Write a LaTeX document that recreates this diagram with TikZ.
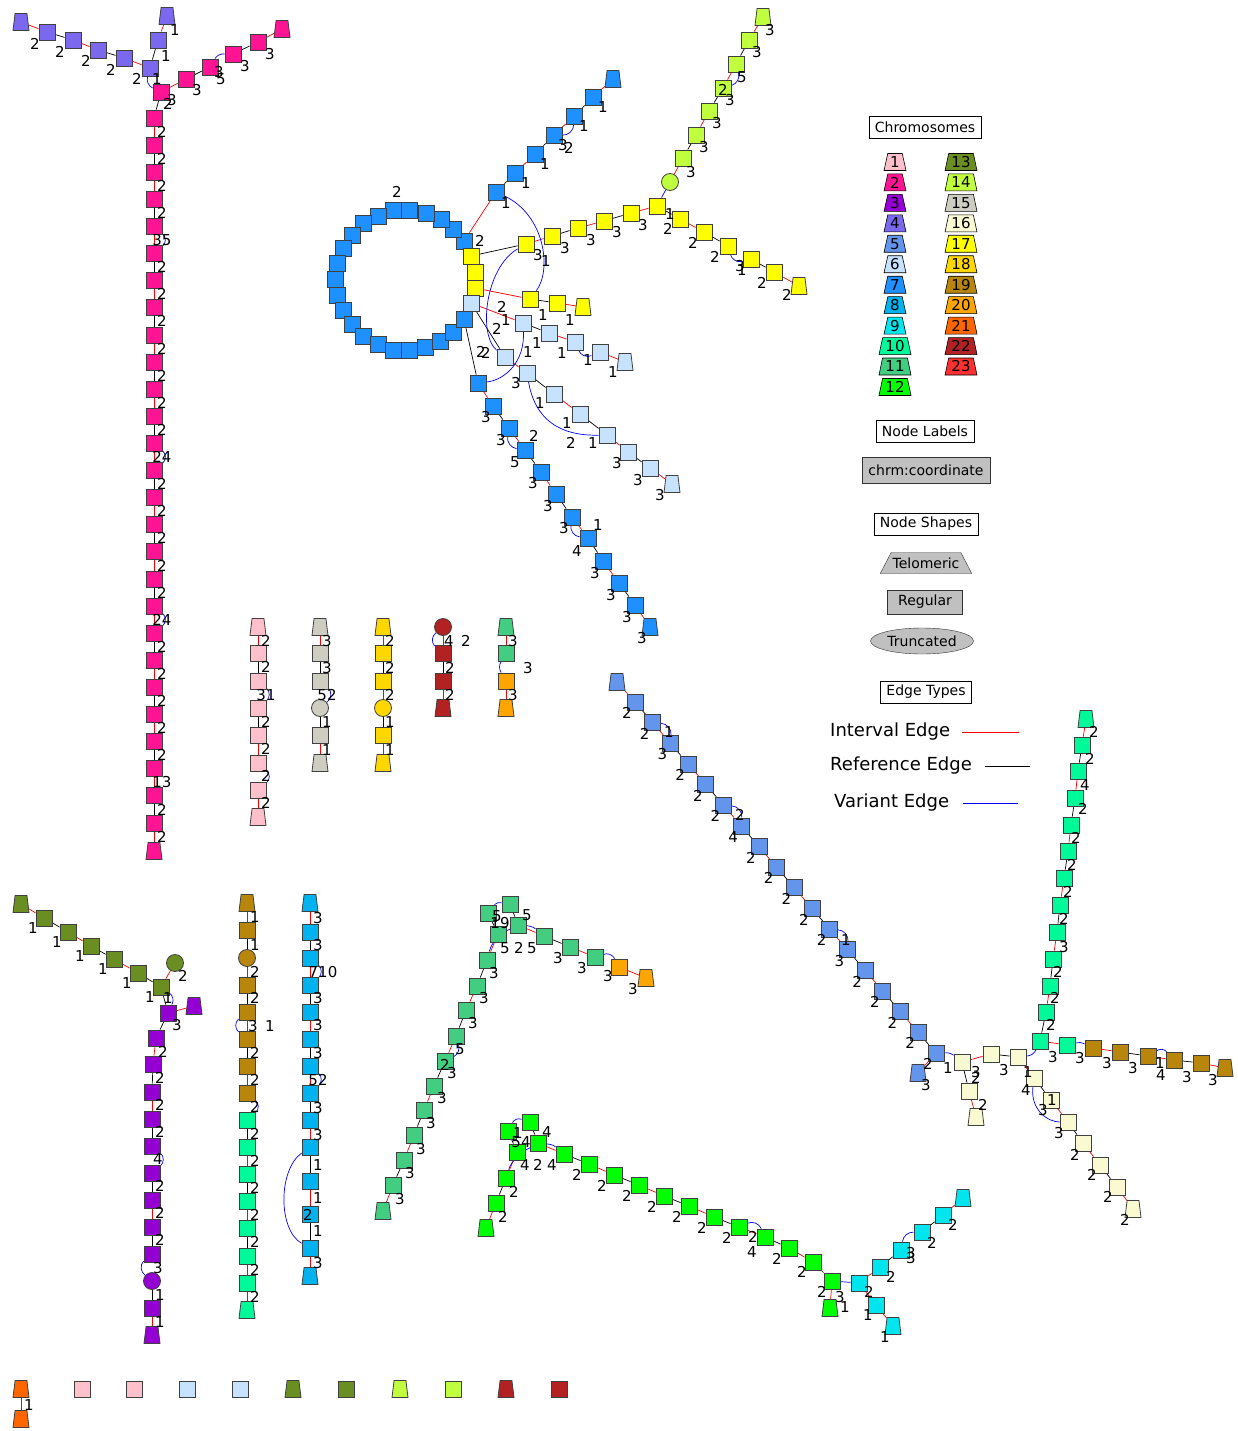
\documentclass[tikz,border=0pt]{standalone}
\usepackage{fontspec}
\setmainfont{DejaVu Sans}
\usetikzlibrary{shapes.geometric,backgrounds}
\definecolor{c1}{HTML}{FFC0CB}
\definecolor{c2}{HTML}{FF1493}
\definecolor{c3}{HTML}{9400D3}
\definecolor{c4}{HTML}{7B68EE}
\definecolor{c5}{HTML}{6495ED}
\definecolor{c6}{HTML}{C6E2FF}
\definecolor{c7}{HTML}{1E90FF}
\definecolor{c8}{HTML}{00B2EE}
\definecolor{c9}{HTML}{00E5EE}
\definecolor{c10}{HTML}{00FA9A}
\definecolor{c11}{HTML}{43CD80}
\definecolor{c12}{HTML}{00FF00}
\definecolor{c13}{HTML}{6B8E23}
\definecolor{c14}{HTML}{C0FF3E}
\definecolor{c15}{HTML}{CDCDC1}
\definecolor{c16}{HTML}{FAFAD2}
\definecolor{c17}{HTML}{FFFF00}
\definecolor{c18}{HTML}{FFD700}
\definecolor{c19}{HTML}{B8860B}
\definecolor{c20}{HTML}{FFA500}
\definecolor{c21}{HTML}{FF6600}
\definecolor{c22}{HTML}{B22222}
\definecolor{c23}{HTML}{FF3030}
\definecolor{lgray}{HTML}{C0C0C0}
\tikzset{
 sq/.style={rectangle,draw=black!75,line width=0.8pt,minimum size=16pt,inner sep=0pt},
 tl/.style={trapezium,draw=black!75,line width=0.8pt,trapezium left angle=80,trapezium right angle=80,trapezium stretches=true,minimum width=16pt,minimum height=17pt,inner sep=1pt},
 tc/.style={circle,draw=black!75,line width=0.8pt,minimum size=17pt,inner sep=0pt},
 ie/.style={draw=red,line width=0.7pt},
 re/.style={draw=black,line width=0.7pt},
 ve/.style={draw=blue,line width=0.7pt},
 lb/.style={font=\fontsize{15}{15}\selectfont,inner sep=0pt},
 box/.style={draw=black,fill=white,font=\fontsize{14}{14}\selectfont,inner xsep=6pt,inner ysep=3pt,minimum height=22pt},
 gbox/.style={draw=black!80,fill=lgray,font=\fontsize{14}{14}\selectfont,inner sep=2pt},
 chr/.style={trapezium,draw=black,line width=0.6pt,trapezium left angle=77,trapezium right angle=77,trapezium stretches=true,minimum width=22pt,minimum height=17pt,inner sep=1pt,font=\fontsize{15}{15}\selectfont},
 chrw/.style={chr,minimum width=32pt},
 big/.style={anchor=west,font=\fontsize{18}{18}\selectfont,inner sep=0pt},
}
\begin{document}
\begin{tikzpicture}[x=1pt,y=-1pt]
\useasboundingbox (0,0) rectangle (1238,1431);
%%%%%%%%%%%%%%%% LEGEND
\node[box] (hC) at (925,127) {Chromosomes};
\foreach \i in {1,...,9} \node[chr,fill=c\i] (k\i) at (895,{162+20.45*(\i-1)}) {\i};
\foreach \i in {10,11,12} \node[chrw,fill=c\i] (k\i) at (895,{162+20.45*(\i-1)}) {\i};
\foreach \i in {13,...,23} \node[chrw,fill=c\i] (k\i) at (961,{162+20.45*(\i-13)}) {\i};
\node[box] (hL) at (925,431) {Node Labels};
\node[gbox,minimum width=128pt,minimum height=26pt] (gC) at (926,470) {chrm:coordinate};
\node[box] (hS) at (926,524) {Node Shapes};
\node[trapezium,draw=black!80,fill=lgray,trapezium left angle=50,trapezium right angle=50,trapezium stretches=true,minimum width=92pt,minimum height=21pt,inner sep=1pt,font=\fontsize{14}{14}\selectfont] (sT) at (926,563) {Telomeric};
\node[gbox,minimum width=75pt,minimum height=24pt] (sR) at (925,602) {Regular};
\node[ellipse,draw=black!80,fill=lgray,minimum width=103pt,minimum height=26pt,inner sep=0pt,font=\fontsize{14}{14}\selectfont] (sE) at (922,641) {Truncated};
\node[box] (hE) at (926,692) {Edge Types};
\node[big] (eI) at (830,732) {Interval Edge};
\node[big] (eR) at (830,766) {Reference Edge};
\node[big] (eV) at (834,803) {Variant Edge};
\coordinate (eI1) at (962,732); \coordinate (eI2) at (1019,732);
\coordinate (eR1) at (985,766); \coordinate (eR2) at (1030,766);
\coordinate (eV1) at (963,803); \coordinate (eV2) at (1018,803);
\draw[ie,line width=1pt] (eI1)--(eI2); \draw[re,line width=1pt] (eR1)--(eR2); \draw[ve,line width=1pt] (eV1)--(eV2);
%%%%%%%%%%%%%%%% NODES
% --- chr4 / chr2 top-left
\node[tl,fill=c4] (a1) at (21,22) {};
\foreach \n/\x/\y in {a2/47/32,a3/73/40,a4/98/50,a5/124/58,a6/150/68,a7/158/40} \node[sq,fill=c4] (\n) at (\x,\y) {};
\node[tl,fill=c4] (a8) at (167,16) {};
\foreach \n/\x/\y in {b0/161/92,b1/186/79,b2/210/67,b3/233/54,b4/258/42} \node[sq,fill=c2] (\n) at (\x,\y) {};
\node[tl,fill=c2] (b5) at (282,29) {};
\foreach \i in {1,...,27} {\pgfmathsetmacro\yy{118+27.115*(\i-1)}\node[sq,fill=c2] (m\i) at (154,\yy) {};}
\node[tl,fill=c2] (mT) at (154,851) {};
% --- blue loop cluster
\foreach \n/\x/\y [count=\i] in {L1/464/241,L2/453/229,L3/441/219,L4/426/213,L5/409/210,L6/393/210,L7/378/216,L8/363/223,L9/352/235,L10/343/248,L11/337/263,L12/335/279,L13/337/295,L14/343/310,L15/352/324,L16/363/336,L17/378/344,L18/393/350,L19/409/350,L20/425/347,L21/440/341,L22/453/332,L23/464/319} \node[sq,fill=c7] (\n) at (\x,\y) {};
\foreach \n/\x/\y in {U1/496/192,U2/515/173,U3/535/154,U4/554/135,U5/574/116,U6/593/97} \node[sq,fill=c7] (\n) at (\x,\y) {};
\node[tl,fill=c7] (UT) at (613,79) {};
\foreach \n/\x/\y in {Y1/471/256,Y2/475/272,Y3/475/288,Y4/526/244,Y5/552/236,Y6/578/228,Y7/604/221,Y8/631/213,Y9/657/206,Y10/680/219,Y11/704/232,Y12/728/246,Y13/751/259,Y14/774/272,Y15/530/299,Y16/557/303} \node[sq,fill=c17] (\n) at (\x,\y) {};
\node[tl,fill=c17] (YT) at (799,286) {};
\node[tl,fill=c17] (YT2) at (583,307) {};
\foreach \n/\x/\y in {P0/471/303,P1/523/323,P2/505/357,P3/549/333,P4/575/342,P5/600/352,P6/527/373,P7/554/394,P8/580/414,P9/607/435,P10/628/452,P11/650/468} \node[sq,fill=c6] (\n) at (\x,\y) {};
\node[tl,fill=c6] (PT) at (625,362) {};
\node[tl,fill=c6] (PT2) at (672,484) {};
\foreach \n/\x/\y in {D1/478/383,D2/493/406,D3/509/428,D4/525/450,D5/541/472,D6/556/494,D7/572/517,D8/588/538,D9/603/561,D10/619/583,D11/635/605} \node[sq,fill=c7] (\n) at (\x,\y) {};
\node[tl,fill=c7] (DT) at (650,627) {};
\node[tc,fill=c14] (G0) at (670,182) {};
\foreach \n/\x/\y in {G1/683/158,G2/696/135,G3/709/111,G4/723/88,G5/736/64,G6/749/40} \node[sq,fill=c14] (\n) at (\x,\y) {};
\node[tl,fill=c14] (GT) at (763,17) {};
% --- small middle chains
\node[tl,fill=c1] (K0) at (258,627) {};
\foreach \n/\y in {K1/653,K2/681,K3/708,K4/735,K5/763,K6/790} \node[sq,fill=c1] (\n) at (258,\y) {};
\node[tl,fill=c1] (KT) at (258,817) {};
\node[tl,fill=c15] (Q0) at (320,627) {};
\node[sq,fill=c15] (Q1) at (320,653) {};
\node[sq,fill=c15] (Q2) at (320,681) {};
\node[tc,fill=c15] (Q3) at (320,708) {};
\node[sq,fill=c15] (Q4) at (320,735) {};
\node[tl,fill=c15] (QT) at (320,763) {};
\node[tl,fill=c18] (R0) at (383,627) {};
\node[sq,fill=c18] (R1) at (383,653) {};
\node[sq,fill=c18] (R2) at (383,681) {};
\node[tc,fill=c18] (R3) at (383,708) {};
\node[sq,fill=c18] (R4) at (383,735) {};
\node[tl,fill=c18] (RT) at (383,763) {};
\node[tc,fill=c22] (F0) at (443,627) {};
\node[sq,fill=c22] (F1) at (443,653) {};
\node[sq,fill=c22] (F2) at (443,681) {};
\node[tl,fill=c22] (FT) at (443,708) {};
\node[tl,fill=c11] (H0) at (506,627) {};
\node[sq,fill=c11] (H1) at (506,653) {};
\node[sq,fill=c20] (H2) at (506,681) {};
\node[tl,fill=c20] (HT) at (506,708) {};
% --- chr13 / chr3 bottom-left
\node[tl,fill=c13] (O0) at (21,904) {};
\foreach \n/\x/\y in {O1/44/918,O2/68/932,O3/91/946,O4/114/959,O5/138/973,O6/161/987} \node[sq,fill=c13] (\n) at (\x,\y) {};
\node[tc,fill=c13] (OC) at (175,963) {};
\foreach \n/\x/\y in {V0/168/1013,V1/156/1038,V2/153/1064,V3/152/1092,V4/152/1119,V5/152/1146,V6/152/1173,V7/152/1200,V8/152/1227,V9/152/1254,V10/152/1308} \node[sq,fill=c3] (\n) at (\x,\y) {};
\node[tl,fill=c3] (VT0) at (194,1006) {};
\node[tc,fill=c3] (VC) at (152,1281) {};
\node[tl,fill=c3] (VT) at (152,1335) {};
% --- chr19 / chr10 column
\node[tl,fill=c19] (W0) at (247,903) {};
\node[sq,fill=c19] (W1) at (247,930) {};
\node[tc,fill=c19] (WC) at (247,958) {};
\foreach \n/\y in {W2/985,W3/1012,W4/1039,W5/1066,W6/1093} \node[sq,fill=c19] (\n) at (247,\y) {};
\foreach \n/\y in {X1/1120,X2/1147,X3/1174,X4/1201,X5/1228,X6/1256,X7/1283} \node[sq,fill=c10] (\n) at (247,\y) {};
\node[tl,fill=c10] (XT) at (247,1310) {};
% --- chr8 column
\node[tl,fill=c8] (Z0) at (310,903) {};
\foreach \n/\y in {Z1/932,Z2/958,Z3/985,Z4/1012,Z5/1039,Z6/1066,Z7/1093,Z8/1120,Z9/1147,Z10/1181,Z11/1214,Z12/1248} \node[sq,fill=c8] (\n) at (310,\y) {};
\node[tl,fill=c8] (ZT) at (310,1276) {};
% --- chr11 big
\foreach \n/\x/\y in {E1/488/913,E2/510/904,E3/498/934,E4/518/925,E5/544/936,E6/570/947,E7/595/957,E9/487/960,E10/477/986,E11/466/1010,E12/456/1036,E13/445/1061,E14/434/1086,E15/424/1110,E16/414/1135,E17/404/1160,E18/393/1185} \node[sq,fill=c11] (\n) at (\x,\y) {};
\node[tl,fill=c11] (ETT) at (383,1211) {};
\node[sq,fill=c20] (E8) at (619,967) {};
\node[tl,fill=c20] (ET) at (646,978) {};
% --- chr12
\foreach \n/\x/\y in {N1/508/1131,N2/530/1122,N3/517/1152,N4/538/1143,N5/564/1154,N6/589/1164,N7/614/1175,N8/639/1185,N9/664/1196,N10/689/1206,N11/714/1217,N12/739/1227,N13/765/1237,N14/789/1248,N15/813/1262,N16/832/1281,N17/506/1178,N18/496/1203} \node[sq,fill=c12] (\n) at (\x,\y) {};
\node[tl,fill=c12] (NT) at (830,1308) {};
\node[tl,fill=c12] (NT2) at (486,1228) {};
% --- chr9
\foreach \n/\x/\y in {C1/859/1283,C2/880/1267,C3/901/1250,C4/922/1232,C5/943/1215,C6/876/1305} \node[sq,fill=c9] (\n) at (\x,\y) {};
\node[tl,fill=c9] (CT) at (963,1198) {};
\node[tl,fill=c9] (CT2) at (893,1326) {};
% --- chr5 diagonal
\node[tl,fill=c5] (J00) at (617,682) {};
\foreach \i in {0,...,17} \node[sq,fill=c5] (J\i) at ({635+17.7*\i},{702+20.65*\i}) {};
\node[tl,fill=c5] (JT) at (918,1073) {};
% --- chr16
\foreach \n/\x/\y in {A1/962/1062,A2/991/1054,A3/1018/1057,A4/969/1091,A5/1034/1078,A6/1051/1100,A7/1068/1122,A8/1083/1143,A9/1100/1165,A10/1117/1187} \node[sq,fill=c16] (\n) at (\x,\y) {};
\node[tl,fill=c16] (AT) at (976,1117) {};
\node[tl,fill=c16] (AT2) at (1133,1209) {};
% --- chr10 right column + chr19 right
\node[tl,fill=c10] (B0) at (1086,719) {};
\foreach \n/\x/\y in {B1/1082/745,B2/1078/771,B3/1075/798,B4/1071/825,B5/1068/851,B6/1064/878,B7/1060/905,B8/1057/932,B9/1053/959,B10/1050/986,B11/1046/1012,B12/1040/1041,B13/1067/1045} \node[sq,fill=c10] (\n) at (\x,\y) {};
\foreach \n/\x/\y in {I1/1093/1048,I2/1120/1052,I3/1148/1056,I4/1174/1060,I5/1201/1063} \node[sq,fill=c19] (\n) at (\x,\y) {};
\node[tl,fill=c19] (IT) at (1225,1068) {};
% --- bottom row
\node[tl,fill=c21] (r1) at (21,1389) {};
\node[tl,fill=c21] (r2) at (21,1419) {};
\node[sq,fill=c1] (r3) at (82,1389) {};
\node[sq,fill=c1] (r4) at (134,1389) {};
\node[sq,fill=c6] (r5) at (187,1389) {};
\node[sq,fill=c6] (r6) at (240,1389) {};
\node[tl,fill=c13] (r7) at (293,1389) {};
\node[sq,fill=c13] (r8) at (346,1389) {};
\node[tl,fill=c14] (r9) at (400,1389) {};
\node[sq,fill=c14] (r10) at (453,1389) {};
\node[tl,fill=c22] (r11) at (506,1389) {};
\node[sq,fill=c22] (r12) at (559,1389) {};
%%%%%%%%%%%%%%%% EDGES
\begin{pgfonlayer}{background}
\foreach \a/\b/\s in {a1/a2/ie,a2/a3/re,a3/a4/ie,a4/a5/re,a5/a6/ie,a6/a7/re,a7/a8/ie,b0/b1/ie,b1/b2/re,b3/b4/re,b4/b5/ie,b0/m1/re,m27/mT/ie} \draw[\s] (\a)--(\b);
\draw[ve] (a6) to[bend right=40] (b0);
\draw[ve] (b2) to[bend left=30] (b3);
\foreach \i in {1,...,26} {\pgfmathtruncatemacro\j{\i+1}\ifodd\i\draw[ie] (m\i)--(m\j);\else\draw[re] (m\i)--(m\j);\fi}
\foreach \i in {5,13,19} {\pgfmathtruncatemacro\j{\i+1}\draw[ve] (m\i) to[bend left=50] (m\j);}
% loop cluster
\foreach \i in {1,...,22} {\pgfmathtruncatemacro\j{\i+1}\draw[re] (L\i)--(L\j);}
\foreach \a/\b/\s in {L1/U1/ie,U1/U2/re,U2/U3/ie,U3/U4/re,U4/U5/ie,U5/U6/re,U6/UT/ie,L1/Y1/re,Y1/Y2/re,Y2/Y3/re,Y3/P0/re,P0/L23/re,Y1/Y4/re,Y4/Y5/ie,Y5/Y6/re,Y6/Y7/ie,Y7/Y8/re,Y8/Y9/ie,Y9/Y10/re,Y10/Y11/ie,Y11/Y12/re,Y13/Y14/re,Y14/YT/ie,Y3/Y15/ie,Y15/Y16/re,Y16/YT2/ie,P0/P1/ie,P0/P2/re,P1/P3/re,P3/P4/ie,P5/PT/ie,P2/P6/ie,P6/P7/re,P7/P8/ie,P8/P9/re,P9/P10/ie,P10/P11/re,P11/PT2/ie,L23/D1/re,D1/D2/ie,D2/D3/re,D3/D4/ie,D4/D5/re,D5/D6/ie,D6/D7/re,D7/D8/ie,D8/D9/re,D9/D10/ie,D10/D11/re,D11/DT/ie,G0/G1/ie,G1/G2/re,G2/G3/ie,G3/G4/re,G4/G5/ie,G5/G6/re,G6/GT/ie,Y9/G0/ve} \draw[\s] (\a)--(\b);
\foreach \a/\b in {U4/U5,Y12/Y13,P4/P5,D3/D4,D7/D8,G4/G5} \draw[ve] (\a) to[bend right=45] (\b);
\draw[ve] (U1) .. controls (545,215) and (552,270) .. (Y15);
\draw[ve] (Y4) .. controls (485,268) and (478,335) .. (P2);
\draw[ve] (P1) .. controls (525,362) and (505,380) .. (D1);
\draw[ve] (P6) .. controls (535,420) and (560,436) .. (P9);
% small chains
\foreach \a/\b/\s in {K0/K1/ie,K1/K2/re,K3/K4/re,K4/K5/ie,K6/KT/ie,Q0/Q1/ie,Q1/Q2/re,Q3/Q4/re,Q4/QT/ie,R0/R1/ie,R1/R2/re,R2/R3/ie,R3/R4/re,R4/RT/ie,F0/F1/ie,F1/F2/re,F2/FT/ie,H0/H1/ie,H2/HT/ie} \draw[\s] (\a)--(\b);
\foreach \a/\b in {K2/K3,K5/K6,Q2/Q3} \draw[ve] (\a) to[bend left=50] (\b);
\draw[ve] (F0) to[bend right=50] (F1);
\draw[ve] (H1) to[bend right=30] (H2);
% chr13/chr3
\foreach \a/\b/\s in {O0/O1/ie,O1/O2/re,O2/O3/ie,O3/O4/re,O4/O5/ie,O5/O6/re,OC/O6/ie,O6/V0/re,V0/VT0/ie,V0/V1/re,V1/V2/ie,V2/V3/re,V3/V4/ie,V4/V5/re,V6/V7/re,V7/V8/ie,V8/V9/re,VC/V10/re,V10/VT/ie} \draw[\s] (\a)--(\b);
\draw[ve] (O6) to[bend left=40] (V0);
\draw[ve] (V5) to[bend left=50] (V6);
\draw[ve] (V9) to[bend right=50] (VC);
% chr19/10 column
\foreach \a/\b/\s in {W0/W1/ie,W1/WC/re,WC/W2/ie,W2/W3/re,W3/W4/ie,W4/W5/re,W5/W6/ie,X1/X2/re,X2/X3/ie,X3/X4/re,X4/X5/ie,X5/X6/re,X6/X7/ie,X7/XT/ie} \draw[\s] (\a)--(\b);
\draw[ve] (W3) to[bend right=50] (W4);
\draw[ve] (W6) to[bend left=50] (X1);
% chr8
\foreach \a/\b/\s in {Z0/Z1/ie,Z1/Z2/re,Z2/Z3/ie,Z3/Z4/re,Z4/Z5/ie,Z5/Z6/re,Z6/Z7/ie,Z7/Z8/re,Z8/Z9/ie,Z9/Z10/re,Z10/Z11/ie,Z11/Z12/re,Z12/ZT/ie} \draw[\s] (\a)--(\b);
\draw[ve] (Z2) to[bend left=50] (Z3);
\draw[ve] (Z6) to[bend left=50] (Z7);
\draw[ve] (Z9) .. controls (278,1170) and (278,1230) .. (Z12);
% chr11
\foreach \a/\b/\s in {E1/E3/re,E2/E4/re,E3/E9/ie,E4/E5/ie,E5/E6/re,E6/E7/ie,E8/ET/ie,E9/E10/re,E10/E11/ie,E11/E12/re,E12/E13/ie,E13/E14/re,E14/E15/ie,E15/E16/re,E16/E17/ie,E17/E18/re,E18/ETT/ie} \draw[\s] (\a)--(\b);
\draw[ve] (E1) to[bend left=30] (E2);
\draw[ve] (E7) to[bend left=40] (E8);
\draw[ve] (E12) to[bend left=40] (E13);
\draw[ve] (E9) .. controls (495,930) and (525,920) .. (E5);
% chr12
\foreach \a/\b/\s in {N1/N3/re,N2/N4/re,N3/N17/ie,N4/N5/ie,N5/N6/re,N6/N7/ie,N7/N8/re,N8/N9/ie,N9/N10/re,N10/N11/ie,N11/N12/re,N12/N13/ie,N13/N14/re,N14/N15/ie,N15/N16/re,N16/NT/ie,N17/N18/re,N18/NT2/ie} \draw[\s] (\a)--(\b);
\draw[ve] (N1) to[bend left=40] (N2);
\draw[ve] (N12) to[bend left=45] (N13);
\draw[ve] (N17) .. controls (515,1150) and (545,1138) .. (N5);
\draw[ve] (N16)--(C1);
% chr9
\foreach \a/\b/\s in {C1/C2/ie,C2/C3/re,C4/C5/re,C5/CT/ie,C1/C6/ie,C6/CT2/ie} \draw[\s] (\a)--(\b);
\draw[ve] (C3) to[bend left=40] (C4);
% chr5
\draw[ie] (J00)--(J0);
\foreach \i in {0,...,16} {\pgfmathtruncatemacro\j{\i+1}\ifodd\i\draw[ie] (J\i)--(J\j);\else\draw[re] (J\i)--(J\j);\fi}
\foreach \i in {1,5,11} {\pgfmathtruncatemacro\j{\i+1}\draw[ve] (J\i) to[bend left=45] (J\j);}
\draw[ie] (J17)--(JT);
\draw[ve] (J17) to[bend left=20] (A1);
% chr16
\foreach \a/\b/\s in {A1/A2/ie,A2/A3/re,A3/A5/ie,A1/A4/re,A4/AT/ie,A5/A6/re,A6/A7/ie,A7/A8/re,A8/A9/ie,A9/A10/re,A10/AT2/ie} \draw[\s] (\a)--(\b);
\draw[ve] (A5) .. controls (1030,1110) and (1048,1122) .. (A7);
\draw[ve] (A3) to[bend right=30] (B12);
% chr10 right
\draw[ie] (B0)--(B1);
\foreach \i in {1,...,11} {\pgfmathtruncatemacro\j{\i+1}\ifodd\i\draw[re] (B\i)--(B\j);\else\draw[ie] (B\i)--(B\j);\fi}
\draw[ie] (B12)--(B13);
\draw[ve] (B13) to[bend left=20] (I1);
\foreach \a/\b/\s in {I1/I2/ie,I2/I3/re,I3/I4/ie,I4/I5/re,I5/IT/ie} \draw[\s] (\a)--(\b);
\draw[ve] (I3) to[bend left=40] (I4);
\draw[ie] (r1)--(r2);
\end{pgfonlayer}
%%%%%%%%%%%%%%%% LABELS
\foreach \x/\y/\t in {35/44/2,60/52/2,86/61/2,111/70/2,137/79/2,166/56/1,175/30/1,157/79/1,168/104/2,172/100/3,197/90/3,219/72/3,221/79/5,245/66/3,270/54/3} \node[lb] at (\x,\y) {\t};
\foreach \t [count=\i] in {2,2,2,2,35,2,2,2,2,2,2,2,24,2,2,2,2,2,24,2,2,2,2,2,13,2,2} {\pgfmathsetmacro\yy{131.6+27.115*(\i-1)}\node[lb] at (162,\yy) {\t};}
\foreach \x/\y/\t in {397/192/2,480/241/2,506/203/1,526/183/1,545/164/1,563/145/3,569/148/2,584/126/1,603/107/1,538/255/3,546/261/1,565/248/3,591/240/3,617/232/3,643/225/3,670/214/1,668/229/2,693/243/2,715/257/2,740/266/3,742/270/1,762/283/2,787/295/2,543/315/1,570/320/1,502/307/2,506/320/1,497/329/2,481/352/2,486/353/2,528/352/1,537/343/1,562/353/1,588/360/1,613/372/1,516/383/3,540/403/1,567/423/1,571/443/2,593/443/1,617/463/3,638/480/3,660/495/3,486/417/3,501/440/3,534/436/2,515/462/5,533/483/3,548/506/3,564/528/3,598/525/1,577/551/4,595/573/3,611/595/3,627/617/3,642/638/3,691/172/3,704/147/3,717/123/3,723/90/2,730/100/3,742/77/5,757/52/3,770/30/3} \node[lb] at (\x,\y) {\t};
% small chains
\foreach \y/\t in {641/2,667/2,695/31,722/2,749/2,776/2,803/2} \node[lb] at (266,\y) {\t};
\foreach \y/\t in {641/3,668/3,695/52,722/1,750/1} \node[lb] at (327,\y) {\t};
\foreach \y/\t in {641/2,668/2,695/2,722/1,750/1} \node[lb] at (390,\y) {\t};
\foreach \x/\y/\t in {449/641/4,466/641/2,450/668/2,450/695/2,513/641/3,528/668/3,513/695/3} \node[lb] at (\x,\y) {\t};
% chr13/3
\foreach \x/\y/\t in {33/928/1,57/942/1,80/956/1,103/969/1,127/983/1,150/997/1,168/998/1,183/976/2,177/1025/3,163/1052/2,160/1078/2,160/1105/2,160/1132/2,158/1159/4,160/1186/2,160/1213/2,160/1240/2,158/1268/3,160/1295/1,160/1322/1} \node[lb] at (\x,\y) {\t};
% chr19/10 column
\foreach \y/\t in {917/1,945/1,972/2,998/2,1053/2,1080/2,1107/2,1134/2,1161/2,1188/2,1215/2,1242/2,1270/2,1297/2} \node[lb] at (255,\y) {\t};
\node[lb] at (253,1026) {3};
\node[lb] at (270,1026) {1};
% chr8
\foreach \y/\t in {918/3,945/3,998/3,1025/3,1053/3,1080/52,1108/3,1135/3,1165/1,1198/1,1231/1,1263/3} \node[lb] at (318,\y) {\t};
\node[lb] at (323,972) {710};
\node[lb] at (308,1215) {2};
% chr11
\foreach \x/\y/\t in {497/916/5,527/915/5,500/923/19,505/948/5,519/948/2,532/948/5,558/958/3,582/968/3,608/976/3,633/989/3,494/973/3,484/998/3,473/1023/3,460/1049/5,445/1065/2,452/1073/3,442/1098/3,431/1123/3,421/1149/3,410/1173/3,400/1199/3} \node[lb] at (\x,\y) {\t};
% chr12
\foreach \x/\y/\t in {518/1133/1,521/1142/54,547/1132/4,525/1165/4,538/1165/2,552/1165/4,577/1175/2,602/1186/2,627/1196/2,652/1207/2,677/1217/2,702/1228/2,727/1238/2,753/1237/2,752/1252/4,777/1259/2,802/1272/2,822/1292/2,840/1297/3,845/1307/1,514/1192/2,503/1217/2} \node[lb] at (\x,\y) {\t};
% chr9
\foreach \x/\y/\t in {869/1292/2,891/1277/2,911/1253/3,911/1258/3,932/1243/2,953/1225/2,868/1315/1,885/1337/1} \node[lb] at (\x,\y) {\t};
% chr5
\foreach \t [count=\i from 0] in {2,2,3,2,2,2,4,2,2,2,2,2,3,2,2,2,2,2} \node[lb] at ({627+17.7*\i},{713+20.65*\i}) {\t};
\foreach \x/\y/\t in {669/732/1,740/815/2,846/940/1,926/1085/3} \node[lb] at (\x,\y) {\t};
% chr16
\foreach \x/\y/\t in {948/1068/1,1004/1070/3,1028/1072/1,976/1072/3,976/1078/2,983/1105/2,1026/1090/4,1052/1100/1,1043/1110/3,1059/1133/3,1075/1155/2,1092/1175/2,1108/1197/2,1125/1220/2} \node[lb] at (\x,\y) {\t};
% chr10 right / chr19 right
\foreach \x/\y/\t in {1094/732/2,1090/759/2,1085/785/4,1083/809/2,1076/838/2,1072/865/2,1068/892/2,1064/919/2,1064/947/3,1058/972/2,1055/998/2,1051/1025/2,1053/1057/3,1080/1058/3,1107/1063/3,1133/1068/3,1160/1063/1,1161/1075/4,1187/1077/3,1213/1080/3} \node[lb] at (\x,\y) {\t};
\node[lb] at (29,1405) {1};
\end{tikzpicture}
\end{document}
